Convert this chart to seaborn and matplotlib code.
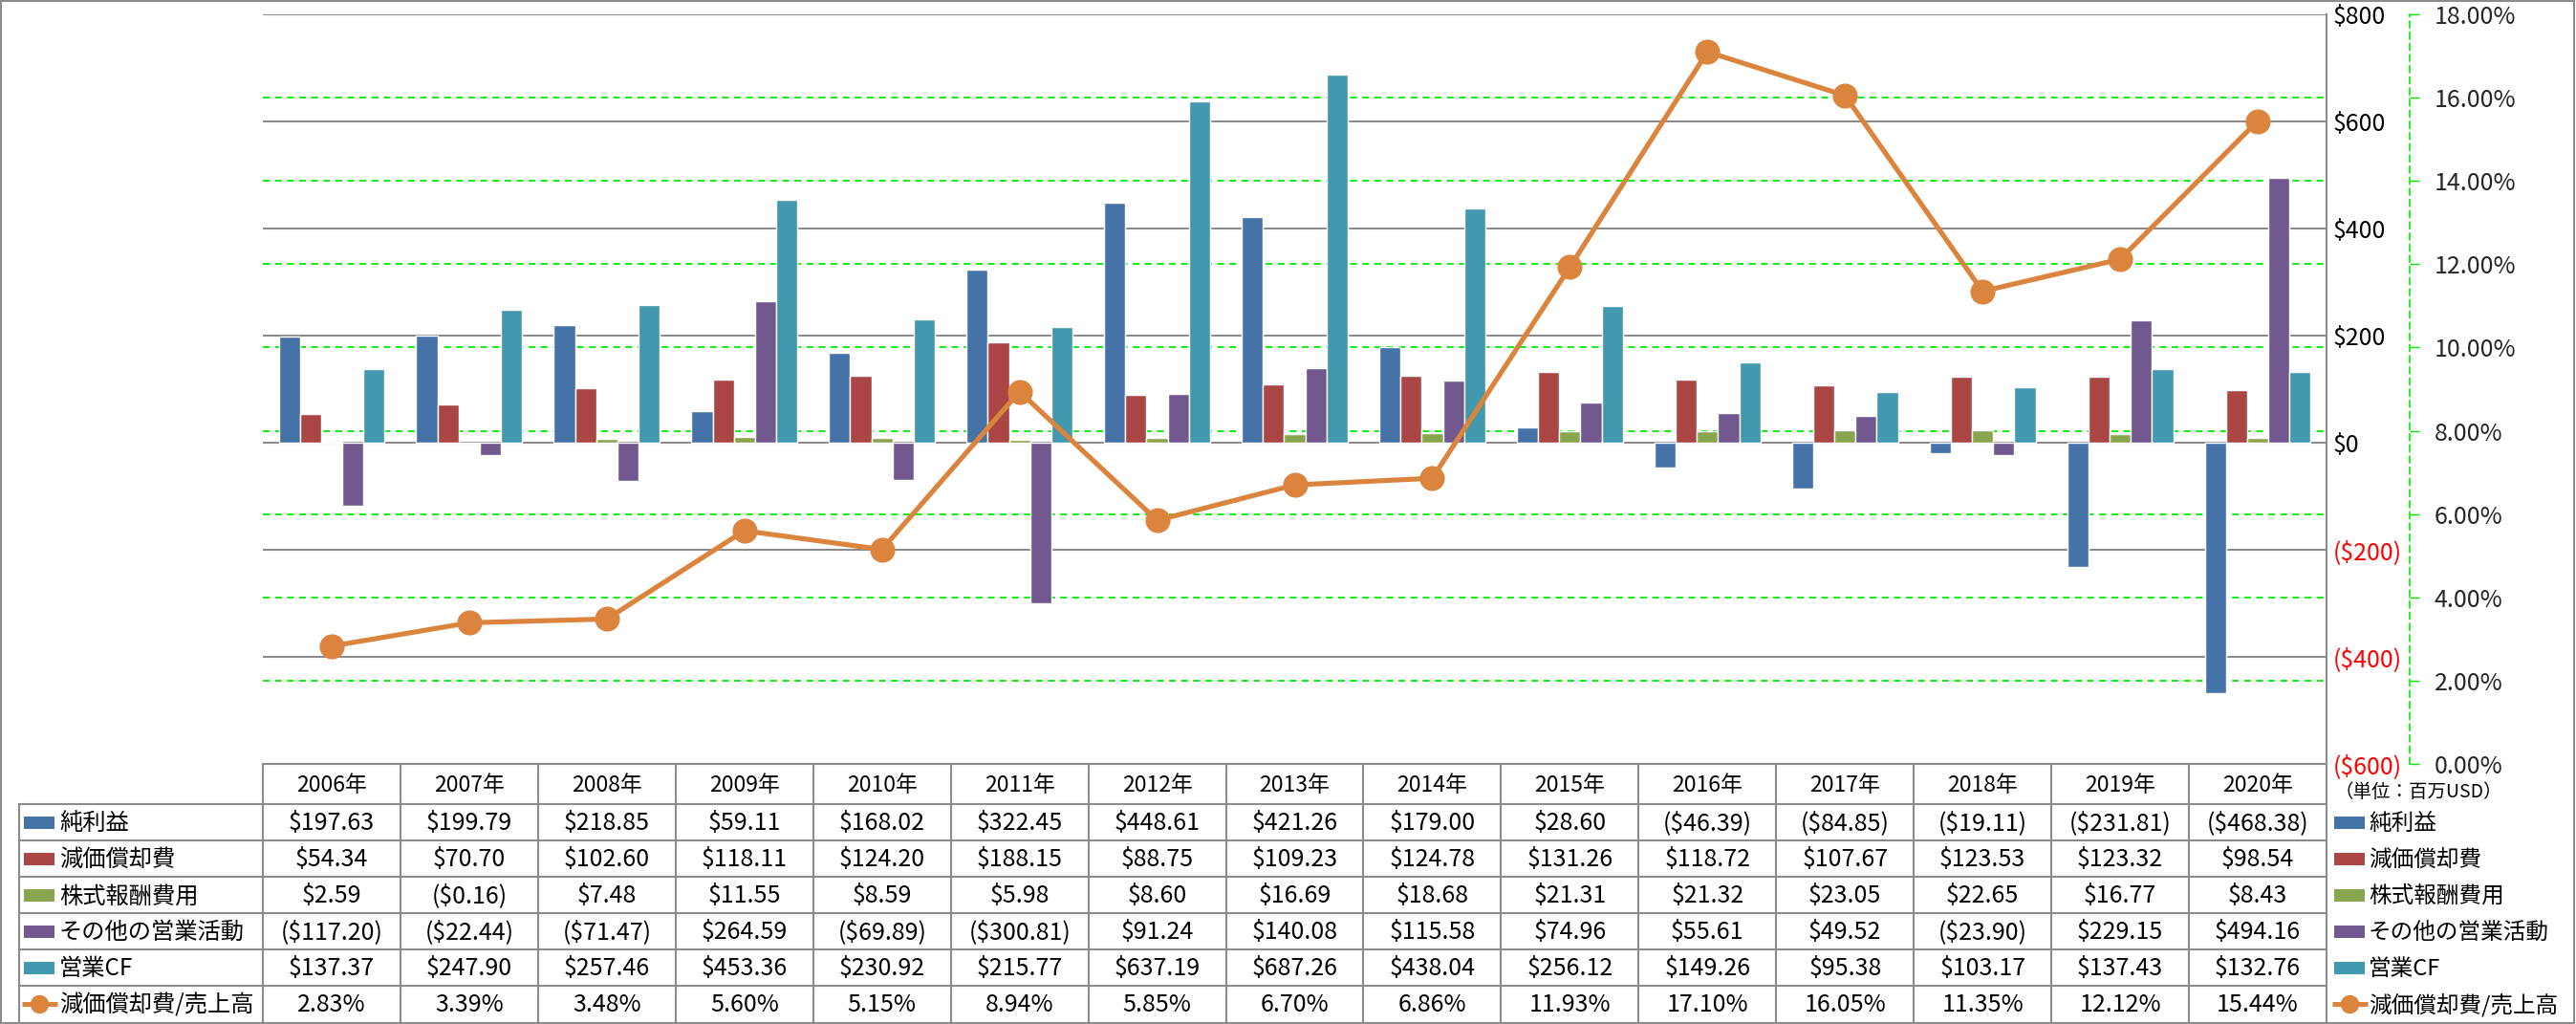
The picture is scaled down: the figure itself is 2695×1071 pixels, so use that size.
import numpy as np
import pandas as pd
import matplotlib
matplotlib.use("Agg")
import matplotlib.pyplot as plt
import matplotlib.transforms as mtransforms
from matplotlib.patches import Rectangle
from matplotlib.lines import Line2D
import seaborn as sns

# ---------------- data ----------------
years = ["2006年", "2007年", "2008年", "2009年", "2010年", "2011年", "2012年", "2013年",
         "2014年", "2015年", "2016年", "2017年", "2018年", "2019年", "2020年"]
series_names = ["純利益", "減価償却費", "株式報酬費用", "その他の営業活動", "営業CF"]
net_income = [197.63, 199.79, 218.85, 59.11, 168.02, 322.45, 448.61, 421.26, 179.00, 28.60,
              -46.39, -84.85, -19.11, -231.81, -468.38]
depreciation = [54.34, 70.70, 102.60, 118.11, 124.20, 188.15, 88.75, 109.23, 124.78, 131.26,
                118.72, 107.67, 123.53, 123.32, 98.54]
stock_comp = [2.59, -0.16, 7.48, 11.55, 8.59, 5.98, 8.60, 16.69, 18.68, 21.31,
              21.32, 23.05, 22.65, 16.77, 8.43]
other_ops = [-117.20, -22.44, -71.47, 264.59, -69.89, -300.81, 91.24, 140.08, 115.58, 74.96,
             55.61, 49.52, -23.90, 229.15, 494.16]
operating_cf = [137.37, 247.90, 257.46, 453.36, 230.92, 215.77, 637.19, 687.26, 438.04, 256.12,
                149.26, 95.38, 103.17, 137.43, 132.76]
line_name = "減価償却費/売上高"
dep_ratio = [2.83, 3.39, 3.48, 5.60, 5.15, 8.94, 5.85, 6.70, 6.86, 11.93,
             17.10, 16.05, 11.35, 12.12, 15.44]
usd_ticks = [-600, -400, -200, 0, 200, 400, 600, 800]
pct_ticks = [0, 2, 4, 6, 8, 10, 12, 14, 16, 18]
unit_note = "（単位：百万USD）"

# ---------------- style ----------------
colors = ["#4572A7", "#AA4643", "#89A54E", "#71588F", "#4198AF"]
line_color = "#DB843D"
grid_gray = "#8C8C8C"
green = "#00EE00"

sns.set_theme(style="white")
plt.rcParams["font.family"] = ["Noto Sans CJK JP", "DejaVu Sans"]

W, H = 2695, 1071
fig = plt.figure(figsize=(W / 100, H / 100), dpi=100)
PX = 72 / 100  # points per pixel


def fx(px):
    return px / W


def fy(py):
    return 1 - py / H


L, R, T, B = 275, 2434, 15, 799
ax = fig.add_axes([fx(L), fy(B), fx(R) - fx(L), fy(T) - fy(B)])

series_values = [net_income, depreciation, stock_comp, other_ops, operating_cf]
df = pd.DataFrame({
    "year": np.repeat([years], len(series_names), axis=0).ravel(),
    "series": np.repeat(series_names, len(years)),
    "value": np.concatenate(series_values),
})

sns.barplot(data=df, x="year", y="value", hue="series", order=years, hue_order=series_names,
            palette=colors, width=0.77, saturation=1, errorbar=None, legend=False, ax=ax,
            zorder=2)


def money(v, dec=0):
    s = f"${abs(v):,.{dec}f}"
    return f"({s})" if v < 0 else s


# secondary percentage axis
ax2 = ax.twinx()
ax2.set_ylim(pct_ticks[0], pct_ticks[-1])
sns.pointplot(x=years, y=dep_ratio, ax=ax2, color=line_color, markers="o",
              errorbar=None, linewidth=5.2 * PX, markersize=16, zorder=5)

ax.set_xlim(-0.5, len(years) - 0.5)
ax.set_ylim(usd_ticks[0], usd_ticks[-1])
ax.set_yticks(usd_ticks)
ax.set_yticklabels([money(v) for v in usd_ticks])
ax.yaxis.tick_right()
ax.tick_params(axis="y", length=0, pad=7 * PX, labelsize=18)
for tick, v in zip(ax.yaxis.get_major_ticks(), usd_ticks):
    tick.label1.set_color("#FF0000" if v < 0 else "black")
    tick.label2.set_color("#FF0000" if v < 0 else "black")
ax.tick_params(axis="x", bottom=False, labelbottom=False)
ax.set_xlabel("")
ax.set_ylabel("")
ax.grid(axis="y", color=grid_gray, linewidth=1.5, linestyle="-")
ax.grid(axis="x", visible=False)
ax.set_axisbelow(True)
for s in ["left", "top", "bottom"]:
    ax.spines[s].set_visible(False)
ax.spines["right"].set_color(grid_gray)
ax.spines["right"].set_linewidth(1.5)

ax2.set_xlim(-0.5, len(years) - 0.5)
ax2.set_ylim(pct_ticks[0], pct_ticks[-1])
ax2.set_yticks(pct_ticks)
ax2.set_yticklabels([f"{v:.2f}%" for v in pct_ticks])
ax2.tick_params(axis="y", length=7, width=1, color=green, pad=16 * PX, labelsize=18,
                direction="out")
ax2.tick_params(axis="x", bottom=False, labelbottom=False)
ax2.set_xlabel("")
ax2.set_ylabel("")
ax2.grid(False)
for s in ["left", "top", "bottom"]:
    ax2.spines[s].set_visible(False)
ax2.spines["right"].set_position(("outward", 87 * PX))
ax2.spines["right"].set_color(green)
ax2.spines["right"].set_linestyle((0, (4, 3)))
ax2.spines["right"].set_linewidth(1.2)

# green dashed gridlines of the % axis, drawn behind the bars
blend = mtransforms.blended_transform_factory(ax.transAxes, ax2.transData)
for p in pct_ticks[1:-1]:
    ax.add_line(Line2D([0, 1], [p, p], transform=blend, color=green, linewidth=1.3,
                       linestyle=(0, (4, 3)), zorder=1))

# ---------------- data table & legend ----------------
tax = fig.add_axes([0, 0, 1, 1])
tax.set_xlim(0, W)
tax.set_ylim(H, 0)
tax.axis("off")

ncol = len(years)
colw = (R - L) / ncol
col_edges = [L + i * colw for i in range(ncol + 1)]
row_top = 841
row_bottom = 1069.5
nrow = len(series_names) + 1
row_h = (row_bottom - row_top) / nrow
row_edges = [row_top + i * row_h for i in range(nrow + 1)]
tlc = grid_gray
lw = 1.5

tax.plot([L, R], [B, B], color=tlc, lw=lw)
for y in row_edges:
    tax.plot([20, R], [y, y], color=tlc, lw=lw)
tax.plot([20, 20], [row_edges[0], row_edges[-1]], color=tlc, lw=lw)
for x in col_edges[:-1]:
    tax.plot([x, x], [B, row_edges[-1]], color=tlc, lw=lw)
tax.plot([R, R], [B, row_edges[-1]], color=tlc, lw=lw)

# header
for i, yr in enumerate(years):
    tax.text(col_edges[i] + colw / 2, (B + row_top) / 2 + 1, yr, ha="center", va="center",
             fontsize=16.5, color="black")

row_texts = [[money(v, 2) for v in vals] for vals in series_values]
row_texts.append([f"{v:.2f}%" for v in dep_ratio])
row_labels = series_names + [line_name]

for r in range(nrow):
    yc = (row_edges[r] + row_edges[r + 1]) / 2
    for i in range(ncol):
        tax.text(col_edges[i] + colw / 2, yc + 1, row_texts[r][i], ha="center", va="center",
                 fontsize=18, color="black")
    # left label cell + right legend entry
    for (px0, tx, fs) in [(25, 62, 17.5), (2442, 2478, 17.0)]:
        if r < len(series_names):
            tax.add_patch(Rectangle((px0, yc - 6.5), 32, 13, color=colors[r], lw=0))
        else:
            tax.plot([px0 - 2, px0 + 35], [yc, yc], color=line_color, lw=5 * PX,
                     solid_capstyle="butt")
            tax.plot([px0 + 16], [yc], marker="o", color=line_color, markersize=14,
                     markeredgewidth=0)
        tax.text(tx, yc + 1, row_labels[r], ha="left", va="center", fontsize=fs,
                 color="black")

tax.text(2530, 829, unit_note, ha="center", va="center", fontsize=14, color="black")

# outer frame
tax.add_patch(Rectangle((1, 1), W - 3, row_bottom - 1, fill=False, edgecolor=tlc, lw=1.5))

fig.savefig("out.png", dpi=100)
